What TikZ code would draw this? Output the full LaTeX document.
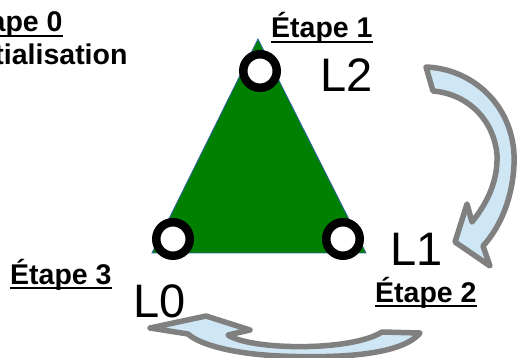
\documentclass[tikz,border=0pt]{standalone}
\usepackage{fontspec}
\setmainfont{Liberation Sans}
\definecolor{arrgray}{HTML}{808080}
\definecolor{arrblue}{HTML}{CFE7F5}
\definecolor{trigreen}{HTML}{008000}
\definecolor{triedge}{HTML}{3465A4}
\newcommand\myul[1]{\setbox0\hbox{#1}\rlap{\rule[-5pt]{\wd0}{2pt}}\box0}
\begin{document}
\begin{tikzpicture}[x=1pt,y=-1pt,
  lbl/.style={inner sep=0,anchor=base west,font=\fontsize{28.5}{34}\selectfont\bfseries},
  big/.style={inner sep=0,anchor=base west,font=\fontsize{47}{56}\selectfont},
  ring/.style={circle,draw=black,line width=8.5pt,fill=white,minimum size=33.5pt,inner sep=0},
  arr/.style={draw=arrgray,fill=arrblue,line width=5.5pt,line join=round}]
\useasboundingbox (0,0) rectangle (517,358);
\clip (0,0) rectangle (517,358);
% triangle
\coordinate (A) at (258,39);
\coordinate (B) at (152,253);
\coordinate (C) at (366,253);
\fill[trigreen,draw=triedge,line width=0.8pt] (A) -- (B) -- (C) -- cycle;
% rings
\node[ring] (n2) at (260,71) {};
\node[ring] (n0) at (173,239) {};
\node[ring] (n1) at (343,239) {};
% big labels
\node[big] (l2) at (320,92) {L2};
\node[big] (l1) at (390,266) {L1};
\node[big] (l0) at (133,317) {L0};
% step labels
\node[lbl] (e1) at (271,38) {\myul{Étape 1}};
\node[lbl] (e2) at (375,302) {\myul{Étape 2}};
\node[lbl] (e3) at (10,284) {\myul{Étape 3}};
\node[lbl] (e0) at (-39,32) {\myul{Étape 0}};
\node[lbl] (e0b) at (-39,65) {Initialisation};
% right curved arrow
\draw[arr] (426,67) .. controls (476,69) and (517,110) .. (514,165)
  .. controls (512,205) and (496,232) .. (483,246) -- (490,266) -- (455,242)
  -- (467,204) -- (472,222) .. controls (488,202) and (498,180) .. (497,155)
  .. controls (494,120) and (468,94) .. (433,91) -- cycle;
% bottom curved arrow
\draw[arr] (150,328) -- (206,316) -- (250,330) -- (228,335)
  .. controls (250,350) and (350,352) .. (382,332) -- (420,333)
  .. controls (400,357) and (330,358) .. (280,356)
  .. controls (235,354) and (200,345) .. (188,334) -- cycle;
\end{tikzpicture}
\end{document}
